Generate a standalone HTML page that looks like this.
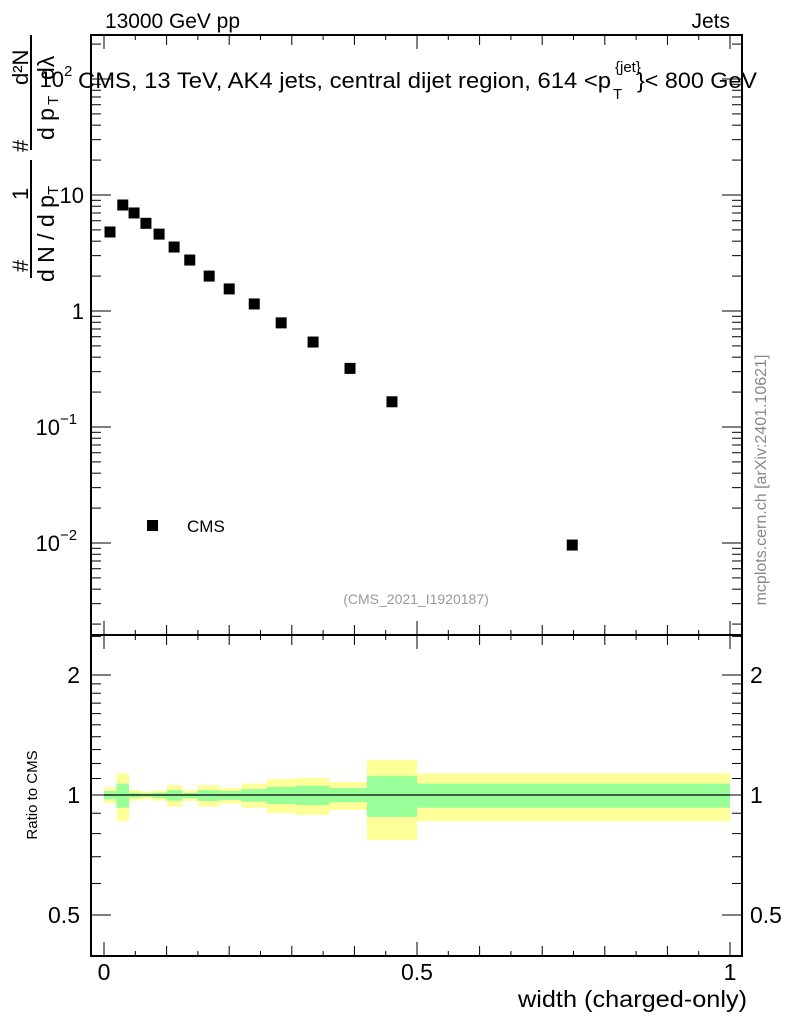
<!DOCTYPE html>
<html><head><meta charset="utf-8"><style>
body{margin:0;background:#fff}
svg{display:block;font-family:"Liberation Sans",sans-serif}
</style></head><body>
<svg id="c" width="786" height="1024" viewBox="0 0 786 1024"></svg>
<script>
const xs=[0.0096,0.03,0.048,0.067,0.088,0.112,0.137,0.168,0.2,0.24,0.283,0.334,0.393,0.46,0.748];
const ys=[4.8,8.2,7.0,5.7,4.6,3.56,2.75,2.0,1.55,1.15,0.79,0.54,0.32,0.165,0.0096];
const edges=[0,0.02,0.04,0.058,0.077,0.1,0.125,0.15,0.185,0.22,0.26,0.305,0.36,0.42,0.5,1.0];
const yelHi=[1.045,1.133,1.029,1.021,1.025,1.059,1.029,1.059,1.041,1.068,1.097,1.103,1.078,1.226,1.133];
const yelLo=[0.953,0.86,0.968,0.975,0.968,0.935,0.966,0.935,0.953,0.929,0.901,0.891,0.917,0.771,0.86];
const grnHi=[1.023,1.068,1.013,1.01,1.013,1.029,1.013,1.029,1.023,1.035,1.047,1.055,1.041,1.118,1.068];
const grnLo=[0.975,0.929,0.985,0.99,0.983,0.968,0.981,0.966,0.972,0.962,0.949,0.944,0.959,0.881,0.929];
const yTickVals=[0.01,0.1,1,10,100];
const xTickLabels=["0","0.5","1"];

const NS="http://www.w3.org/2000/svg",svg=document.getElementById('c');
const L=91,R=742,T=35,M=635,B=956;
const X=v=>104+v*626;
const Y=v=>311-Math.log10(v)*116;
const YR=v=>795-Math.log2(v)*120;
function el(t,a,p){const e=document.createElementNS(NS,t);for(const k in a)e.setAttribute(k,a[k]);(p||svg).appendChild(e);return e;}
function txt(s,a){const e=el('text',a);e.textContent=s;return e;}

for(let i=0;i<edges.length-1;i++){
 const r=el('rect',{x:X(edges[i]),y:YR(yelHi[i]),width:X(edges[i+1])-X(edges[i]),height:YR(yelLo[i])-YR(yelHi[i]),fill:'#ffff99'});
 
 
}
for(let i=0;i<edges.length-1;i++){
 const r=el('rect',{x:X(edges[i]),y:YR(grnHi[i]),width:X(edges[i+1])-X(edges[i]),height:YR(grnLo[i])-YR(grnHi[i]),fill:'#99ff99'});
 
 
}
el('line',{x1:X(0),x2:X(1),y1:YR(1),y2:YR(1),stroke:'#000','stroke-width':1.2});

for(let i=0;i<xs.length;i++){
 const r=el('rect',{x:X(xs[i])-5.5,y:Y(ys[i])-5.5,width:11,height:11,fill:'#000'});
 
 
}

el('rect',{x:L,y:T,width:R-L,height:M-T,fill:'none',stroke:'#000','stroke-width':2});
el('rect',{x:L,y:M,width:R-L,height:B-M,fill:'none',stroke:'#000','stroke-width':2});

for(let k=0;k<=20;k++){
 const v=k*0.05,x=X(v);
 const len=(k%10==0)?14:(k%2==0?10:5);
 el('line',{x1:x,x2:x,y1:B,y2:B-len,stroke:'#000'});
 el('line',{x1:x,x2:x,y1:M,y2:M-len,stroke:'#000'});
 el('line',{x1:x,x2:x,y1:M,y2:M+len,stroke:'#000'});
 el('line',{x1:x,x2:x,y1:T,y2:T+len,stroke:'#000'});
}
xTickLabels.forEach((s,i)=>txt(s,{x:X(i*0.5),y:980,'font-size':23,'text-anchor':'middle'}));

for(let d=-3;d<=2;d++){
 for(let m=1;m<10;m++){
  const v=m*Math.pow(10,d),y=Y(v);
  if(y<T||y>M)continue;
  const len=m==1?20:10;
  el('line',{x1:L,x2:L+len,y1:y,y2:y,stroke:'#000'});
  el('line',{x1:R,x2:R-len,y1:y,y2:y,stroke:'#000'});
 }
}
const yl=['','','1','10',''];
yTickVals.forEach((v,i)=>{
 if(i==0||i==1||i==4){txt('10',{x:i==4?64:60,y:Y(v)+8,'font-size':22,'text-anchor':'end'});
  txt(i==0?'\u22122':(i==1?'\u22121':'2'),{x:i==4?64:60,y:Y(v)-3,'font-size':15});}
 else txt(yl[i],{x:84,y:Y(v)+8,'font-size':22,'text-anchor':'end'});
});
[0.5,0.6,0.7,0.8,0.9,1,1.1,1.2,1.3,1.4,1.5,1.6,1.7,1.8,1.9,2,2.5].forEach(v=>{
 const y=YR(v);if(y<M||y>B)return;
 const len=(v==0.5||v==1||v==2)?20:10;
 el('line',{x1:L,x2:L+len,y1:y,y2:y,stroke:'#000'});
 el('line',{x1:R,x2:R-len,y1:y,y2:y,stroke:'#000'});
});
[[2,'2'],[1,'1'],[0.5,'0.5']].forEach(([v,s])=>{
 txt(s,{x:80,y:YR(v)+8,'font-size':23,'text-anchor':'end'});
 txt(s,{x:750,y:YR(v)+8,'font-size':23});
});

txt('13000 GeV pp',{x:105,y:28,'font-size':21,textLength:135});
txt('Jets',{x:730,y:28,'font-size':21,'text-anchor':'end'});
txt('CMS, 13 TeV, AK4 jets, central dijet region, 614 <p',{x:78,y:88,'font-size':22,textLength:533,lengthAdjust:'spacingAndGlyphs'});
txt('{jet}',{x:615,y:72,'font-size':15});
txt('T',{x:613,y:99,'font-size':15});
txt('}< 800 GeV',{x:637,y:88,'font-size':22,textLength:120,lengthAdjust:'spacingAndGlyphs'});
el('rect',{x:147,y:520,width:11,height:11,fill:'#000'});
txt('CMS',{x:187,y:532,'font-size':17});
txt('(CMS_2021_I1920187)',{x:416,y:604,'font-size':14,fill:'#999','text-anchor':'middle'});
txt('width (charged-only)',{x:747,y:1007,'font-size':23,'text-anchor':'end',textLength:229,lengthAdjust:'spacingAndGlyphs'});
txt('Ratio to CMS',{x:0,y:0,'font-size':15,transform:'translate(37,795) rotate(-90)','text-anchor':'middle'});
txt('mcplots.cern.ch [arXiv:2401.10621]',{x:0,y:0,'font-size':16,fill:'#888',transform:'translate(766,480) rotate(-90)','text-anchor':'middle'});
txt('#',{x:0,y:0,'font-size':22,transform:'translate(28,272) rotate(-90)'});
txt('1',{x:0,y:0,'font-size':22,transform:'translate(28,200) rotate(-90)'});
el('line',{x1:31,x2:31,y1:160,y2:278,stroke:'#000','stroke-width':2});
txt('d N / d p',{x:0,y:0,'font-size':23,transform:'translate(54,282) rotate(-90)'});
txt('T',{x:0,y:0,'font-size':15,transform:'translate(58,195) rotate(-90)'});
txt('#',{x:0,y:0,'font-size':22,transform:'translate(28,152) rotate(-90)'});
txt('d p',{x:0,y:0,'font-size':23,transform:'translate(54,140) rotate(-90)'});
txt('T',{x:0,y:0,'font-size':15,transform:'translate(58,105) rotate(-90)'});
txt('d\u03BB',{x:0,y:0,'font-size':23,transform:'translate(54,80) rotate(-90)'});
el('line',{x1:31,x2:31,y1:35,y2:150,stroke:'#000','stroke-width':2});
txt('d\u00B2N',{x:0,y:0,'font-size':22,transform:'translate(28,85) rotate(-90)'});
</script>
</body></html>
